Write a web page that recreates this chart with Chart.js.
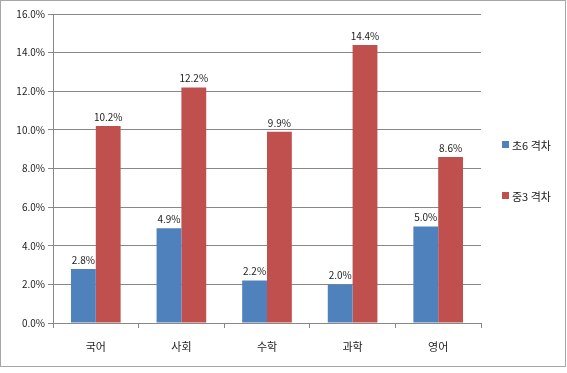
<!DOCTYPE html>
<html>
<head>
<meta charset="utf-8">
<script src="https://cdn.jsdelivr.net/npm/chart.js@4/dist/chart.umd.min.js"></script>
<style>
  html, body { margin: 0; padding: 0; background: #fff; }
  #wrap { width: 567px; height: 373px; position: relative; }
</style>
</head>
<body>
<div id="wrap"><canvas id="c" width="567" height="373"></canvas></div>
<script>
var Subjects = ['국어', '사회', '수학', '과학', '영어'];
var SeriesNames = ['초6 격차', '중3 격차'];
var Elem6Gap = [2.8, 4.9, 2.2, 2.0, 5.0];
var Mid3Gap = [10.2, 12.2, 9.9, 14.4, 8.6];
var SeriesColors = ['#4F81BD', '#C0504D'];

var FontName = "'Noto Sans CJK KR', 'DejaVu Sans', sans-serif";

// frame around the whole picture
var framePlugin = {
    id: 'frame',
    afterDraw: function (chart) {
        var ctx = chart.ctx;
        ctx.save();
        ctx.strokeStyle = '#a6a6a6';
        ctx.lineWidth = 1;
        ctx.strokeRect(0.5, 0.5, 565, 366);
        ctx.restore();
    }
};

// value labels above bars
var labelPlugin = {
    id: 'barLabels',
    afterDatasetsDraw: function (chart) {
        var ctx = chart.ctx;
        ctx.save();
        ctx.font = '10px ' + FontName;
        ctx.fillStyle = '#222';
        ctx.textAlign = 'center';
        ctx.textBaseline = 'bottom';
        chart.data.datasets.forEach(function (ds, i) {
            chart.getDatasetMeta(i).data.forEach(function (bar, j) {
                ctx.fillText(ds.data[j].toFixed(1) + '%', bar.x, bar.y - 4);
            });
        });
        ctx.restore();
    }
};

// legend on the right side
var legendPlugin = {
    id: 'sideLegend',
    afterDraw: function (chart) {
        var ctx = chart.ctx;
        ctx.save();
        ctx.font = '11px ' + FontName;
        ctx.textBaseline = 'middle';
        ctx.fillStyle = '#222';
        var rows = [146, 197];
        chart.data.datasets.forEach(function (ds, i) {
            ctx.fillStyle = ds.backgroundColor;
            ctx.fillRect(502, rows[i] - 5, 7, 7);
            ctx.fillStyle = '#222';
            ctx.fillText(ds.label, 512, rows[i]);
        });
        ctx.restore();
    }
};

new Chart(document.getElementById('c'), {
    type: 'bar',
    data: {
        labels: Subjects,
        datasets: [{
            label: SeriesNames[0],
            data: Elem6Gap,
            backgroundColor: SeriesColors[0]
        }, {
            label: SeriesNames[1],
            data: Mid3Gap,
            backgroundColor: SeriesColors[1]
        }]
    },
    options: {
        responsive: false,
        animation: false,
        layout: { padding: { left: 0, top: 14, right: 86, bottom: 0 } },
        plugins: {
            legend: { display: false },
            tooltip: { enabled: false }
        },
        datasets: {
            bar: { categoryPercentage: 0.58, barPercentage: 1.0 }
        },
        scales: {
            x: {
                grid: { display: true, offset: true, drawOnChartArea: false, drawTicks: true, tickLength: 5, color: '#888' },
                border: { color: '#888' },
                ticks: { font: { family: FontName, size: 11 }, color: '#222', padding: 12 },
                afterFit: function (scale) { scale.height = 50; }
            },
            y: {
                min: 0,
                max: 16,
                ticks: {
                    stepSize: 2,
                    font: { family: FontName, size: 10 },
                    color: '#222',
                    padding: 3,
                    callback: function (v) { return v.toFixed(1) + '%'; }
                },
                grid: { color: '#888', tickLength: 5 },
                border: { color: '#888' },
                afterFit: function (scale) { scale.width = 53; }
            }
        }
    },
    plugins: [framePlugin, labelPlugin, legendPlugin]
});
</script>
</body>
</html>
